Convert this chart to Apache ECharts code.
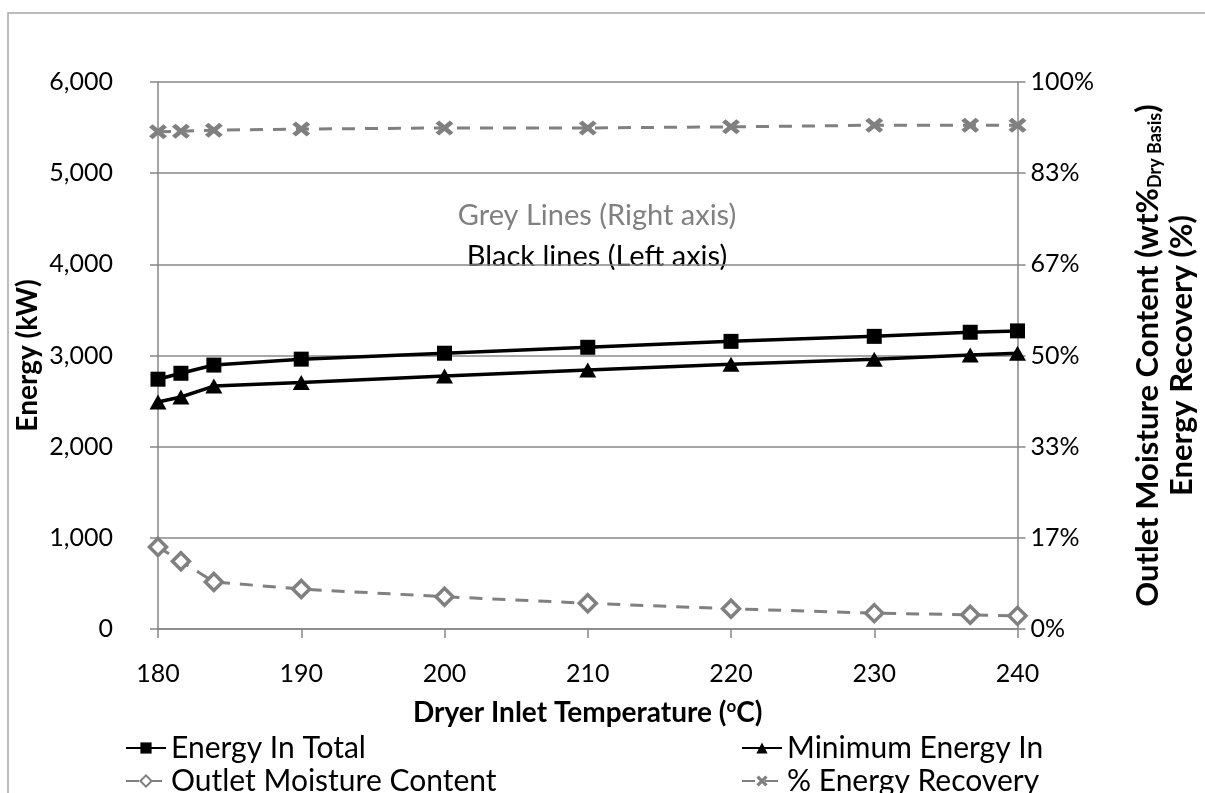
<!DOCTYPE html>
<html>
<head>
<meta charset="utf-8">
<script src="https://cdn.jsdelivr.net/npm/echarts@6/dist/echarts.min.js"></script>
<style>
html,body{margin:0;padding:0;background:#fff;}
#chart{width:1205px;height:793px;}
</style>
</head>
<body>
<div id="chart"></div>
<script>
// ---- data ----
const temps = [180, 181.6, 183.9, 190, 200, 210, 220, 230, 236.7, 240];
const energyTotal = [2740, 2805, 2895, 2960, 3025, 3090, 3155, 3210, 3255, 3270];
const minEnergy = [2490, 2545, 2665, 2705, 2775, 2840, 2905, 2960, 3005, 3025];
const moisture = [15.0, 12.4, 8.6, 7.3, 5.9, 4.7, 3.7, 2.9, 2.6, 2.4];
const recovery = [90.9, 91.0, 91.2, 91.4, 91.6, 91.6, 91.8, 92.1, 92.1, 92.1];
const seriesNames = ['Energy In Total', 'Minimum Energy In', 'Outlet Moisture Content', '% Energy Recovery'];

const FONT = 'Lato, "Open Sans", sans-serif';
const pair = (ys) => temps.map((t, i) => [t, ys[i]]);
const xSymbol = 'path://M2,0 L5,3 L8,0 L10,2 L7,5 L10,8 L8,10 L5,7 L2,10 L0,8 L3,5 L0,2 Z';

const legendStyle = {fontSize: 30, color: '#000', fontFamily: FONT};
function oneLegend(name, left, top) {
  return {left: left, top: top, orient: 'horizontal', itemWidth: 40, itemHeight: 14, itemGap: 4,
    textStyle: legendStyle, data: [name]};
}

const chart = echarts.init(document.getElementById('chart'), null, {renderer: 'canvas'});
chart.setOption({
  animation: false,
  backgroundColor: '#fff',
  textStyle: {fontFamily: FONT},
  grid: {left: 158, right: 174, top: 82, bottom: 164, containLabel: false},
  graphic: [
    {type: 'rect', shape: {x: 8, y: 13, width: 1250, height: 850}, style: {fill: 'none', stroke: '#a6a6a6', lineWidth: 1.5}, silent: true, z: -1},
    {type: 'text', x: 597, y: 216, style: {text: 'Grey Lines (Right axis)', fill: '#808080', font: '29px ' + FONT, align: 'center', verticalAlign: 'middle'}},
    {type: 'text', x: 597, y: 257, style: {text: 'Black lines (Left axis)', fill: '#000', font: '29px ' + FONT, align: 'center', verticalAlign: 'middle'}}
  ],
  legend: [
    oneLegend(seriesNames[0], 120, 728),
    oneLegend(seriesNames[2], 120, 761),
    oneLegend(seriesNames[1], 736, 728),
    oneLegend(seriesNames[3], 736, 761)
  ],
  xAxis: {
    type: 'value', min: 180, max: 240, interval: 10,
    name: '{b|Dryer Inlet Temperature (}{sup|o}{b|C)}',
    nameLocation: 'middle', nameGap: 69,
    nameTextStyle: {rich: {
      b: {fontSize: 28, fontWeight: 'bold', color: '#000', fontFamily: FONT},
      sup: {fontSize: 17, fontWeight: 'bold', color: '#000', fontFamily: FONT, verticalAlign: 'top', padding: [0, 0, 12, 0]}
    }},
    axisLine: {show: true, onZero: false, lineStyle: {color: '#868686', width: 1.5}},
    axisTick: {show: true, length: 9, lineStyle: {color: '#868686', width: 1.5}},
    axisLabel: {fontSize: 25, color: '#000', margin: 32, fontFamily: FONT},
    splitLine: {show: false}
  },
  yAxis: [
    {
      type: 'value', min: 0, max: 6000, interval: 1000, position: 'left',
      name: 'Energy (kW)', nameLocation: 'middle', nameGap: 116, nameRotate: 90,
      nameMoveOverlap: false,
      nameTextStyle: {fontSize: 28, fontWeight: 'bold', color: '#000', fontFamily: FONT},
      axisLine: {show: true, lineStyle: {color: '#868686', width: 1.5}},
      axisTick: {show: true, length: 8, lineStyle: {color: '#868686', width: 1.5}},
      axisLabel: {fontSize: 25, color: '#000', margin: 45, fontFamily: FONT,
        formatter: (v) => v.toLocaleString('en-US')},
      splitLine: {show: true, lineStyle: {color: '#898989', width: 1.5}}
    },
    {
      type: 'value', min: 0, max: 100, interval: 100 / 6, position: 'right',
      name: '{b|Outlet Moisture Content (wt%}{s|Dry Basis}{b|)}\n{b|Energy Recovery (%)}',
      nameLocation: 'middle', nameGap: 113, nameRotate: 90,
      nameTextStyle: {rich: {
        b: {fontSize: 31, fontWeight: 'bold', color: '#000', fontFamily: FONT, lineHeight: 34},
        s: {fontSize: 18, fontWeight: 'bold', color: '#000', fontFamily: FONT, verticalAlign: 'bottom', lineHeight: 34, padding: [10, 0, 0, 0]}
      }},
      axisLine: {show: true, lineStyle: {color: '#868686', width: 1.5}},
      axisTick: {show: true, length: 8, lineStyle: {color: '#868686', width: 1.5}},
      axisLabel: {fontSize: 25, color: '#000', margin: 13, fontFamily: FONT,
        formatter: (v) => Math.round(v) + '%'},
      splitLine: {show: false}
    }
  ],
  series: [
    {name: seriesNames[0], type: 'line', yAxisIndex: 0, data: pair(energyTotal),
     symbol: 'rect', symbolSize: 15, lineStyle: {color: '#000', width: 3.5},
     itemStyle: {color: '#000'}, z: 5},
    {name: seriesNames[1], type: 'line', yAxisIndex: 0, data: pair(minEnergy),
     symbol: 'triangle', symbolSize: [17, 15], lineStyle: {color: '#000', width: 3.5},
     itemStyle: {color: '#000'}, z: 5},
    {name: seriesNames[2], type: 'line', yAxisIndex: 1, data: pair(moisture),
     symbol: 'diamond', symbolSize: 17, showAllSymbol: true,
     lineStyle: {color: '#808080', width: 3, type: [13, 10]},
     itemStyle: {color: '#fff', borderColor: '#808080', borderWidth: 3.5}, z: 4},
    {name: seriesNames[3], type: 'line', yAxisIndex: 1, data: pair(recovery),
     symbol: xSymbol, symbolSize: [18, 15], showAllSymbol: true,
     lineStyle: {color: '#808080', width: 3, type: [13, 10]},
     itemStyle: {color: '#808080'}, z: 4}
  ]
});
</script>
</body>
</html>
